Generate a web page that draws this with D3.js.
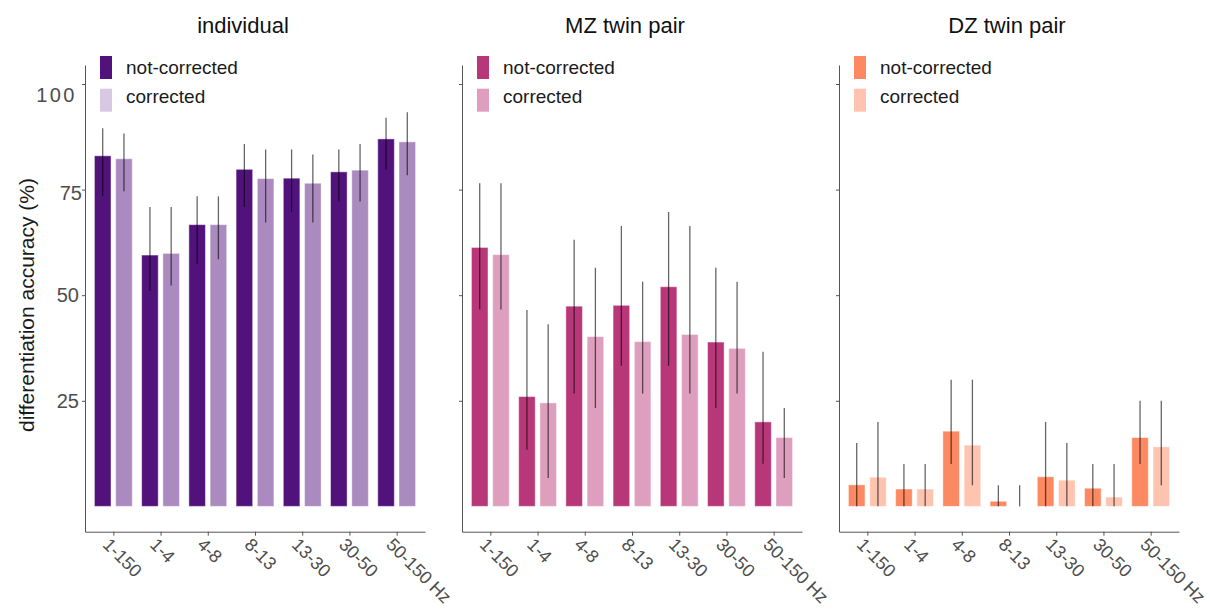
<!DOCTYPE html>
<html>
<head>
<meta charset="utf-8">
<script src="https://cdn.jsdelivr.net/npm/d3@7"></script>
<style>
  html, body { margin: 0; padding: 0; background: #fff; }
  svg { display: block; font-family: "Liberation Sans", Arial, Helvetica, sans-serif; }
</style>
</head>
<body>
<svg id="chart" width="1210" height="610"></svg>
<script>
// Frequency bands on the x axis
const categories = ["1-150", "1-4", "4-8", "8-13", "13-30", "30-50", "50-150 Hz"];
const seriesNames = ["not-corrected", "corrected"];
const panelTitles = ["individual", "MZ twin pair", "DZ twin pair"];
const yTickValues = [25, 50, 75, 100];

// Differentiation accuracy (%) — individual
const indivNotCorrected = [83.0, 59.5, 66.7, 79.8, 77.7, 79.2, 87.0];
const indivNotCorrectedLo = [73.5, 51.0, 57.3, 70.9, 69.7, 72.2, 79.7];
const indivNotCorrectedHi = [89.5, 70.9, 73.4, 85.8, 84.5, 84.5, 92.0];
const indivCorrected = [82.3, 59.9, 66.7, 77.6, 76.5, 79.6, 86.3];
const indivCorrectedLo = [74.6, 52.3, 58.5, 67.2, 67.2, 72.2, 78.4];
const indivCorrectedHi = [88.3, 70.9, 73.4, 84.5, 83.3, 85.8, 93.3];

// MZ twin pair
const mzNotCorrected = [61.3, 26.0, 47.4, 47.6, 52.0, 38.9, 20.0];
const mzNotCorrectedLo = [46.6, 13.4, 26.7, 33.3, 33.3, 23.3, 10.1];
const mzNotCorrectedHi = [76.5, 46.5, 63.1, 66.4, 69.7, 56.5, 36.6];
const mzCorrected = [59.6, 24.5, 40.2, 39.0, 40.7, 37.4, 16.3];
const mzCorrectedLo = [46.6, 6.7, 23.3, 26.7, 26.7, 26.7, 6.7];
const mzCorrectedHi = [76.5, 43.1, 56.5, 53.2, 66.4, 53.2, 23.3];

// DZ twin pair
const dzNotCorrected = [5.1, 4.1, 17.8, 1.2, 7.0, 4.3, 16.3];
const dzNotCorrectedLo = [0, 0, 10, 0, 0, 0, 10];
const dzNotCorrectedHi = [15, 10, 30, 5, 20, 10, 25];
const dzCorrected = [6.9, 4.1, 14.5, 0, 6.2, 2.2, 14.1];
const dzCorrectedLo = [0, 0, 5, 0, 0, 0, 5];
const dzCorrectedHi = [20, 10, 30, 5, 15, 10, 25];

// Colours per panel: [not-corrected, corrected]
const barColors = [["#51127c", "#aa8abf"], ["#b73779", "#de9ebe"], ["#fc8961", "#fec4b0"]];
const legendColors = [["#51127c", "#d8c8e4"], ["#b73779", "#de9ebe"], ["#fc8961", "#fec4b0"]];

const panels = [
  { title: panelTitles[0], values: [indivNotCorrected, indivCorrected], lo: [indivNotCorrectedLo, indivCorrectedLo], hi: [indivNotCorrectedHi, indivCorrectedHi] },
  { title: panelTitles[1], values: [mzNotCorrected, mzCorrected], lo: [mzNotCorrectedLo, mzCorrectedLo], hi: [mzNotCorrectedHi, mzCorrectedHi] },
  { title: panelTitles[2], values: [dzNotCorrected, dzCorrected], lo: [dzNotCorrectedLo, dzCorrectedLo], hi: [dzNotCorrectedHi, dzCorrectedHi] }
];

const svg = d3.select("#chart");

// Layout
const panelLeft = [85, 462, 839];
const panelWidth = 340;
const plotTop = 65;
const plotBottom = 531.7;
const titleX = [243, 625, 1007];
const axisColor = "#555";
const tickTextColor = "#4d4d4d";

const y = d3.scaleLinear().domain([-6, 104.5]).range([plotBottom, plotTop]);

// y axis title
svg.append("text")
  .attr("transform", `translate(26, ${305}) rotate(-90)`)
  .attr("text-anchor", "middle")
  .attr("dominant-baseline", "central")
  .attr("font-size", 21)
  .attr("fill", "#1a1a1a")
  .text("differentiation accuracy (%)");

panels.forEach((p, pi) => {
  const x0 = panelLeft[pi];
  const g = svg.append("g");

  const x = d3.scalePoint().domain(categories).range([x0, x0 + panelWidth]).padding(0.6);
  const step = x.step();
  const xs = d3.scaleBand().domain(seriesNames).range([-0.45 * step, 0.45 * step]).padding(0);
  const barW = xs.bandwidth() * 0.78;
  const errs = [];

  // Bars
  seriesNames.forEach((s, si) => {
    const data = categories.map((c, i) => ({ c, v: p.values[si][i], lo: p.lo[si][i], hi: p.hi[si][i] }));
    const cx = d => x(d.c) + xs(s) + xs.bandwidth() / 2;
    g.append("g").selectAll("rect")
      .data(data.filter(d => d.v > 0))
      .join("rect")
      .attr("x", d => cx(d) - barW / 2)
      .attr("width", barW)
      .attr("y", d => y(d.v))
      .attr("height", d => y(0) - y(d.v))
      .attr("fill", barColors[pi][si])
      .attr("stroke", "#fff")
      .attr("stroke-opacity", 0.45)
      .attr("stroke-width", 1);
    data.forEach(d => errs.push({ x: cx(d), lo: d.lo, hi: d.hi }));
  });

  // Error bars
  g.append("g").selectAll("line")
    .data(errs)
    .join("line")
    .attr("x1", d => d.x).attr("x2", d => d.x)
    .attr("y1", d => y(d.lo)).attr("y2", d => y(d.hi))
    .attr("stroke", "#000")
    .attr("stroke-opacity", 0.6)
    .attr("stroke-width", 1.3);

  // y axis
  const yAxis = d3.axisLeft(y).tickValues(yTickValues).tickSize(3).tickSizeOuter(0)
    .tickFormat(pi === 0 ? d3.format("d") : () => "");
  const ya = svg.append("g").attr("transform", `translate(${x0},0)`).call(yAxis);
  ya.select(".domain").attr("stroke", axisColor);
  ya.selectAll(".tick line").attr("stroke", axisColor);
  ya.selectAll(".tick text")
    .attr("font-size", 20)
    .attr("fill", tickTextColor)
    .attr("x", -6)
    .attr("font-family", "'Liberation Sans', Arial, sans-serif");
  if (pi === 0) {
    ya.selectAll(".tick text").filter(d => d === 100)
      .attr("dy", "0.88em").attr("letter-spacing", 2.5).attr("x", -8);
    ya.selectAll(".tick text").filter(d => d === 75)
      .attr("dy", "0.47em").attr("x", -3);
  }

  // x axis
  const xAxis = d3.axisBottom(x).tickSize(4).tickSizeOuter(0);
  const xa = svg.append("g").attr("transform", `translate(0,${plotBottom})`).call(xAxis);
  xa.select(".domain").attr("stroke", axisColor);
  xa.selectAll(".tick line").attr("stroke", axisColor);
  xa.selectAll(".tick text")
    .attr("font-size", 18)
    .attr("fill", tickTextColor)
    .attr("font-family", "'Liberation Sans', Arial, sans-serif")
    .attr("text-anchor", "start")
    .attr("dy", null)
    .attr("y", 0)
    .attr("transform", "translate(-12,14) rotate(45)");

  // Panel title
  svg.append("text")
    .attr("x", titleX[pi]).attr("y", 33)
    .attr("text-anchor", "middle")
    .attr("font-size", 22)
    .attr("fill", "#111")
    .text(p.title);

  // Legend
  const lg = svg.append("g").attr("transform", `translate(${x0 + 15},56)`);
  seriesNames.forEach((s, si) => {
    lg.append("rect")
      .attr("x", 0).attr("y", si * 32.7)
      .attr("width", 12).attr("height", 23)
      .attr("fill", legendColors[pi][si]);
    lg.append("text")
      .attr("x", 26).attr("y", si === 0 ? 11 : 40)
      .attr("dominant-baseline", "central")
      .attr("font-size", 19)
      .attr("fill", "#1a1a1a")
      .text(s);
  });
});
</script>
</body>
</html>
